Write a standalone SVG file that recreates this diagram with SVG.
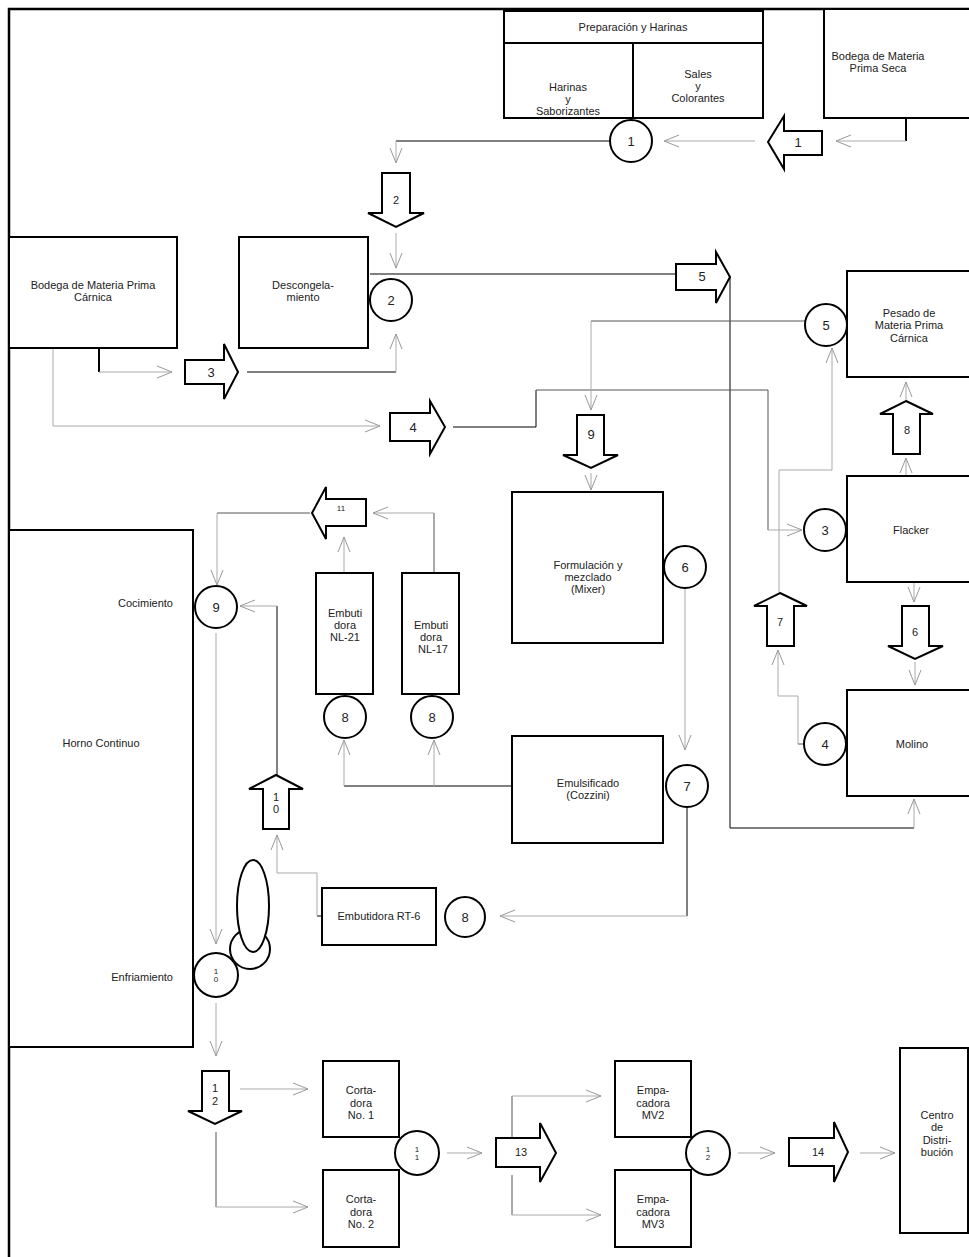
<svg xmlns="http://www.w3.org/2000/svg" width="969" height="1257" viewBox="0 0 969 1257">
<style>
.bx{fill:#fff;stroke:#000;stroke-width:2}
.ci{fill:#fff;stroke:#000;stroke-width:2}
.ba{fill:#fff;stroke:#000;stroke-width:2;stroke-linejoin:miter}
.t{font-family:"Liberation Sans",Arial,sans-serif;font-size:11px;fill:#222;text-anchor:middle}
.n{font-family:"Liberation Sans",Arial,sans-serif;font-size:13px;fill:#222;text-anchor:middle}
.s{font-family:"Liberation Sans",Arial,sans-serif;font-size:8px;fill:#222;text-anchor:middle}
.k{fill:none;stroke:#000;stroke-width:1}
.k2{fill:none;stroke:#000;stroke-width:2}
.m{fill:none;stroke:#555;stroke-width:1}
.g{fill:none;stroke:#aaa;stroke-width:1}
</style>
<defs>
<marker id="ah" viewBox="-1 -1 17 14" refX="15" refY="6" markerWidth="17" markerHeight="14" orient="auto" markerUnits="userSpaceOnUse" overflow="visible">
<path d="M0,0 L15,6 L0,12" fill="none" stroke="#999" stroke-width="1"/>
</marker>
</defs>
<rect width="969" height="1257" fill="#fff"/>
<g id="frame">
<path d="M9,1257 V9 H969" fill="none" stroke="#000" stroke-width="2.5"/>
</g>
<g id="connectors">
<path class="k2" d="M906,118 V141"/>
<path class="g" d="M906,141 H836" marker-end="url(#ah)"/>
<path class="g" d="M755,141 H664" marker-end="url(#ah)"/>
<path class="k" d="M610,141 H396"/>
<path class="g" d="M396,141 V163" marker-end="url(#ah)"/>
<path class="g" d="M396,233 V268" marker-end="url(#ah)"/>
<path class="k" d="M370,274 H676"/>
<path class="k" d="M730,277 V828 H914"/>
<path class="g" d="M914,828 V799" marker-end="url(#ah)"/>
<path class="k2" d="M99,348 V372"/>
<path class="g" d="M99,372 H172" marker-end="url(#ah)"/>
<path class="g" d="M53,348 V426 H380" marker-end="url(#ah)"/>
<path class="k" d="M247,372 H396"/>
<path class="g" d="M396,372 V334" marker-end="url(#ah)"/>
<path class="k" d="M453,427 H536 V390"/>
<path class="m" d="M536,390 H768 V530"/>
<path class="g" d="M768,530 H802" marker-end="url(#ah)"/>
<path class="m" d="M805,321 H591"/>
<path class="g" d="M591,321 V410" marker-end="url(#ah)"/>
<path class="g" d="M591,473 V490" marker-end="url(#ah)"/>
<path class="g" d="M685,588 V750" marker-end="url(#ah)"/>
<path class="k" d="M687,807 V916"/>
<path class="g" d="M687,916 H500" marker-end="url(#ah)"/>
<path class="k" d="M322,916 H317"/>
<path class="g" d="M317,916 V873 H277 V835" marker-end="url(#ah)"/>
<path class="k" d="M277,775 V606"/>
<path class="g" d="M277,606 H240" marker-end="url(#ah)"/>
<path class="m" d="M310,513 H217"/>
<path class="g" d="M217,513 V585" marker-end="url(#ah)"/>
<path class="g" d="M344,573 V537" marker-end="url(#ah)"/>
<path class="m" d="M434,573 V513"/>
<path class="g" d="M434,513 H373" marker-end="url(#ah)"/>
<path class="k" d="M512,786 H344"/>
<path class="g" d="M344,786 V740" marker-end="url(#ah)"/>
<path class="g" d="M434,786 V740" marker-end="url(#ah)"/>
<path class="g" d="M216,633 V944" marker-end="url(#ah)"/>
<path class="g" d="M216,1003 V1056" marker-end="url(#ah)"/>
<path class="g" d="M240,1089 H308" marker-end="url(#ah)"/>
<path class="m" d="M216,1132 V1207"/>
<path class="g" d="M216,1207 H308" marker-end="url(#ah)"/>
<path class="g" d="M447,1153 H482" marker-end="url(#ah)"/>
<path class="m" d="M512,1137 V1096"/>
<path class="g" d="M512,1096 H601" marker-end="url(#ah)"/>
<path class="m" d="M512,1175 V1215"/>
<path class="g" d="M512,1215 H601" marker-end="url(#ah)"/>
<path class="g" d="M738,1153 H775" marker-end="url(#ah)"/>
<path class="g" d="M860,1153 H895" marker-end="url(#ah)"/>
<path class="g" d="M906,476 V458" marker-end="url(#ah)"/>
<path class="g" d="M906,401 V382" marker-end="url(#ah)"/>
<path class="g" d="M914,582 V602" marker-end="url(#ah)"/>
<path class="g" d="M915,662 V685" marker-end="url(#ah)"/>
<path class="m" d="M804,744 H798"/>
<path class="g" d="M798,744 V696 H778 V650" marker-end="url(#ah)"/>
<path class="g" d="M779,592 V470 H832 V348" marker-end="url(#ah)"/>
</g>
<g id="prep">
<rect class="bx" x="504" y="11" width="259" height="32"/>
<text class="t" x="633" y="31">Preparación y Harinas</text>
</g>
<g id="harinas">
<rect class="bx" x="504" y="43" width="129" height="75"/>
<text class="t" x="568" y="91">Harinas</text>
<text class="t" x="568" y="103">y</text>
<text class="t" x="568" y="115">Saborizantes</text>
</g>
<g id="sales">
<rect class="bx" x="633" y="43" width="130" height="75"/>
<text class="t" x="698" y="78">Sales</text>
<text class="t" x="698" y="90">y</text>
<text class="t" x="698" y="102">Colorantes</text>
</g>
<g id="bodega-seca">
<rect class="bx" x="824" y="9" width="150" height="109"/>
<text class="t" x="878" y="60">Bodega de Materia</text>
<text class="t" x="878" y="72">Prima Seca</text>
</g>
<g id="c1"><circle class="ci" cx="631" cy="141" r="21"/><text class="n" x="631" y="146">1</text></g>
<g id="a1"><polygon class="ba" points="768,142 784,116 784,131 822,131 822,155 784,155 784,169"/><text class="n" x="798" y="147">1</text></g>
<g id="a2"><polygon class="ba" points="382,173 410,173 410,213 424,213 396,227 368,213 382,213"/><text class="t" x="396" y="204">2</text></g>
<g id="bodega-carnica">
<rect class="bx" x="9" y="237" width="168" height="111"/>
<text class="t" x="93" y="289">Bodega de Materia Prima</text>
<text class="t" x="93" y="301">Cárnica</text>
</g>
<g id="descong">
<rect class="bx" x="239" y="237" width="129" height="111"/>
<text class="t" x="303" y="289">Descongela-</text>
<text class="t" x="303" y="301">miento</text>
</g>
<g id="c2"><circle class="ci" cx="391" cy="300" r="21"/><text class="n" x="391" y="305">2</text></g>
<g id="a3"><polygon class="ba" points="185,360 224,360 224,344 238,372 224,399 224,384 185,384"/><text class="n" x="211" y="377">3</text></g>
<g id="a4"><polygon class="ba" points="390,413 430,413 430,401 445,427 430,454 430,441 390,441"/><text class="n" x="413" y="432">4</text></g>
<g id="a5"><polygon class="ba" points="676,264 716,264 716,252 730,277 716,303 716,290 676,290"/><text class="n" x="702" y="281">5</text></g>
<g id="pesado">
<rect class="bx" x="847" y="271" width="130" height="106"/>
<text class="t" x="909" y="317">Pesado de</text>
<text class="t" x="909" y="329">Materia Prima</text>
<text class="t" x="909" y="342">Cárnica</text>
</g>
<g id="c5"><circle class="ci" cx="826" cy="325" r="21"/><text class="n" x="826" y="330">5</text></g>
<g id="a9"><polygon class="ba" points="577,415 604,415 604,455 618,455 591,468 563,455 577,455"/><text class="n" x="591" y="439">9</text></g>
<g id="a8"><polygon class="ba" points="906,401 933,414 920,414 920,454 893,454 893,414 880,414"/><text class="t" x="907" y="434">8</text></g>
<g id="flacker">
<rect class="bx" x="847" y="476" width="130" height="106"/>
<text class="t" x="911" y="534">Flacker</text>
</g>
<g id="c3"><circle class="ci" cx="825" cy="530" r="21"/><text class="n" x="825" y="535">3</text></g>
<g id="formulacion">
<rect class="bx" x="512" y="492" width="151" height="151"/>
<text class="t" x="588" y="569">Formulación y</text>
<text class="t" x="588" y="581">mezclado</text>
<text class="t" x="588" y="593">(Mixer)</text>
</g>
<g id="c6"><circle class="ci" cx="685" cy="567" r="21"/><text class="n" x="685" y="572">6</text></g>
<g id="a6"><polygon class="ba" points="902,606 929,606 929,646 943,646 915,659 888,646 902,646"/><text class="t" x="915" y="636">6</text></g>
<g id="a7"><polygon class="ba" points="780,593 807,606 794,606 794,646 767,646 767,606 754,606"/><text class="t" x="780" y="626">7</text></g>
<g id="molino">
<rect class="bx" x="847" y="690" width="130" height="106"/>
<text class="t" x="912" y="748">Molino</text>
</g>
<g id="c4"><circle class="ci" cx="825" cy="744" r="21"/><text class="n" x="825" y="749">4</text></g>
<g id="emulsificado">
<rect class="bx" x="512" y="736" width="151" height="107"/>
<text class="t" x="588" y="787">Emulsificado</text>
<text class="t" x="588" y="799">(Cozzini)</text>
</g>
<g id="c7"><circle class="ci" cx="687" cy="786" r="21"/><text class="n" x="687" y="791">7</text></g>
<g id="a11"><polygon class="ba" points="312,513 326,487 326,499 366,499 366,526 326,526 326,539"/><text class="s" x="341" y="511">11</text></g>
<g id="nl21">
<rect class="bx" x="316" y="573" width="57" height="121"/>
<text class="t" x="345" y="617">Embuti</text>
<text class="t" x="345" y="629">dora</text>
<text class="t" x="345" y="641">NL-21</text>
</g>
<g id="nl17">
<rect class="bx" x="402" y="573" width="57" height="121"/>
<text class="t" x="431" y="629">Embuti</text>
<text class="t" x="431" y="641">dora</text>
<text class="t" x="433" y="653">NL-17</text>
</g>
<g id="c8a"><circle class="ci" cx="345" cy="717" r="21"/><text class="n" x="345" y="722">8</text></g>
<g id="c8b"><circle class="ci" cx="432" cy="717" r="21"/><text class="n" x="432" y="722">8</text></g>
<g id="horno">
<rect class="bx" x="9" y="530" width="184" height="517"/>
<text class="t" x="173" y="607" style="text-anchor:end">Cocimiento</text>
<text class="t" x="101" y="747">Horno Continuo</text>
<text class="t" x="173" y="981" style="text-anchor:end">Enfriamiento</text>
</g>
<g id="c9"><circle class="ci" cx="216" cy="607" r="21"/><text class="n" x="216" y="612">9</text></g>
<g id="a10"><polygon class="ba" points="276,775 303,789 289,789 289,829 263,829 263,789 249,789"/><text class="t" x="276" y="801">1</text><text class="t" x="276" y="813">0</text></g>
<g id="rt6">
<rect class="bx" x="322" y="888" width="114" height="57"/>
<text class="t" x="379" y="920">Embutidora RT-6</text>
</g>
<g id="c8c"><circle class="ci" cx="465" cy="917" r="20"/><text class="n" x="465" y="922">8</text></g>
<g id="oval">
<circle class="ci" cx="250" cy="949" r="20"/>
<ellipse class="ci" cx="253" cy="906" rx="16" ry="46"/>
</g>
<g id="c10"><circle class="ci" cx="216" cy="975" r="22"/><text class="s" x="216" y="974">1</text><text class="s" x="216" y="982">0</text></g>
<g id="a12"><polygon class="ba" points="202,1071 229,1071 229,1111 242,1111 215,1124 188,1111 202,1111"/><text class="t" x="215" y="1092">1</text><text class="t" x="215" y="1105">2</text></g>
<g id="cortadora1">
<rect class="bx" x="323" y="1061" width="76" height="76"/>
<text class="t" x="361" y="1094">Corta-</text>
<text class="t" x="361" y="1107">dora</text>
<text class="t" x="361" y="1119">No. 1</text>
</g>
<g id="cortadora2">
<rect class="bx" x="323" y="1170" width="76" height="77"/>
<text class="t" x="361" y="1203">Corta-</text>
<text class="t" x="361" y="1216">dora</text>
<text class="t" x="361" y="1228">No. 2</text>
</g>
<g id="c11"><circle class="ci" cx="417" cy="1153" r="22"/><text class="s" x="417" y="1152">1</text><text class="s" x="417" y="1160">1</text></g>
<g id="a13"><polygon class="ba" points="496,1138 540,1138 540,1123 556,1153 540,1182 540,1167 496,1167"/><text class="t" x="521" y="1156">13</text></g>
<g id="mv2">
<rect class="bx" x="615" y="1061" width="76" height="76"/>
<text class="t" x="653" y="1094">Empa-</text>
<text class="t" x="653" y="1107">cadora</text>
<text class="t" x="653" y="1119">MV2</text>
</g>
<g id="mv3">
<rect class="bx" x="615" y="1170" width="76" height="77"/>
<text class="t" x="653" y="1203">Empa-</text>
<text class="t" x="653" y="1216">cadora</text>
<text class="t" x="653" y="1228">MV3</text>
</g>
<g id="c12"><circle class="ci" cx="708" cy="1153" r="22"/><text class="s" x="708" y="1152">1</text><text class="s" x="708" y="1160">2</text></g>
<g id="a14"><polygon class="ba" points="789,1138 834,1138 834,1122 848,1152 834,1182 834,1166 789,1166"/><text class="t" x="818" y="1156">14</text></g>
<g id="centro">
<rect class="bx" x="900" y="1048" width="68" height="185"/>
<text class="t" x="937" y="1119">Centro</text>
<text class="t" x="937" y="1131">de</text>
<text class="t" x="937" y="1144">Distri-</text>
<text class="t" x="937" y="1156">bución</text>
</g>
</svg>
